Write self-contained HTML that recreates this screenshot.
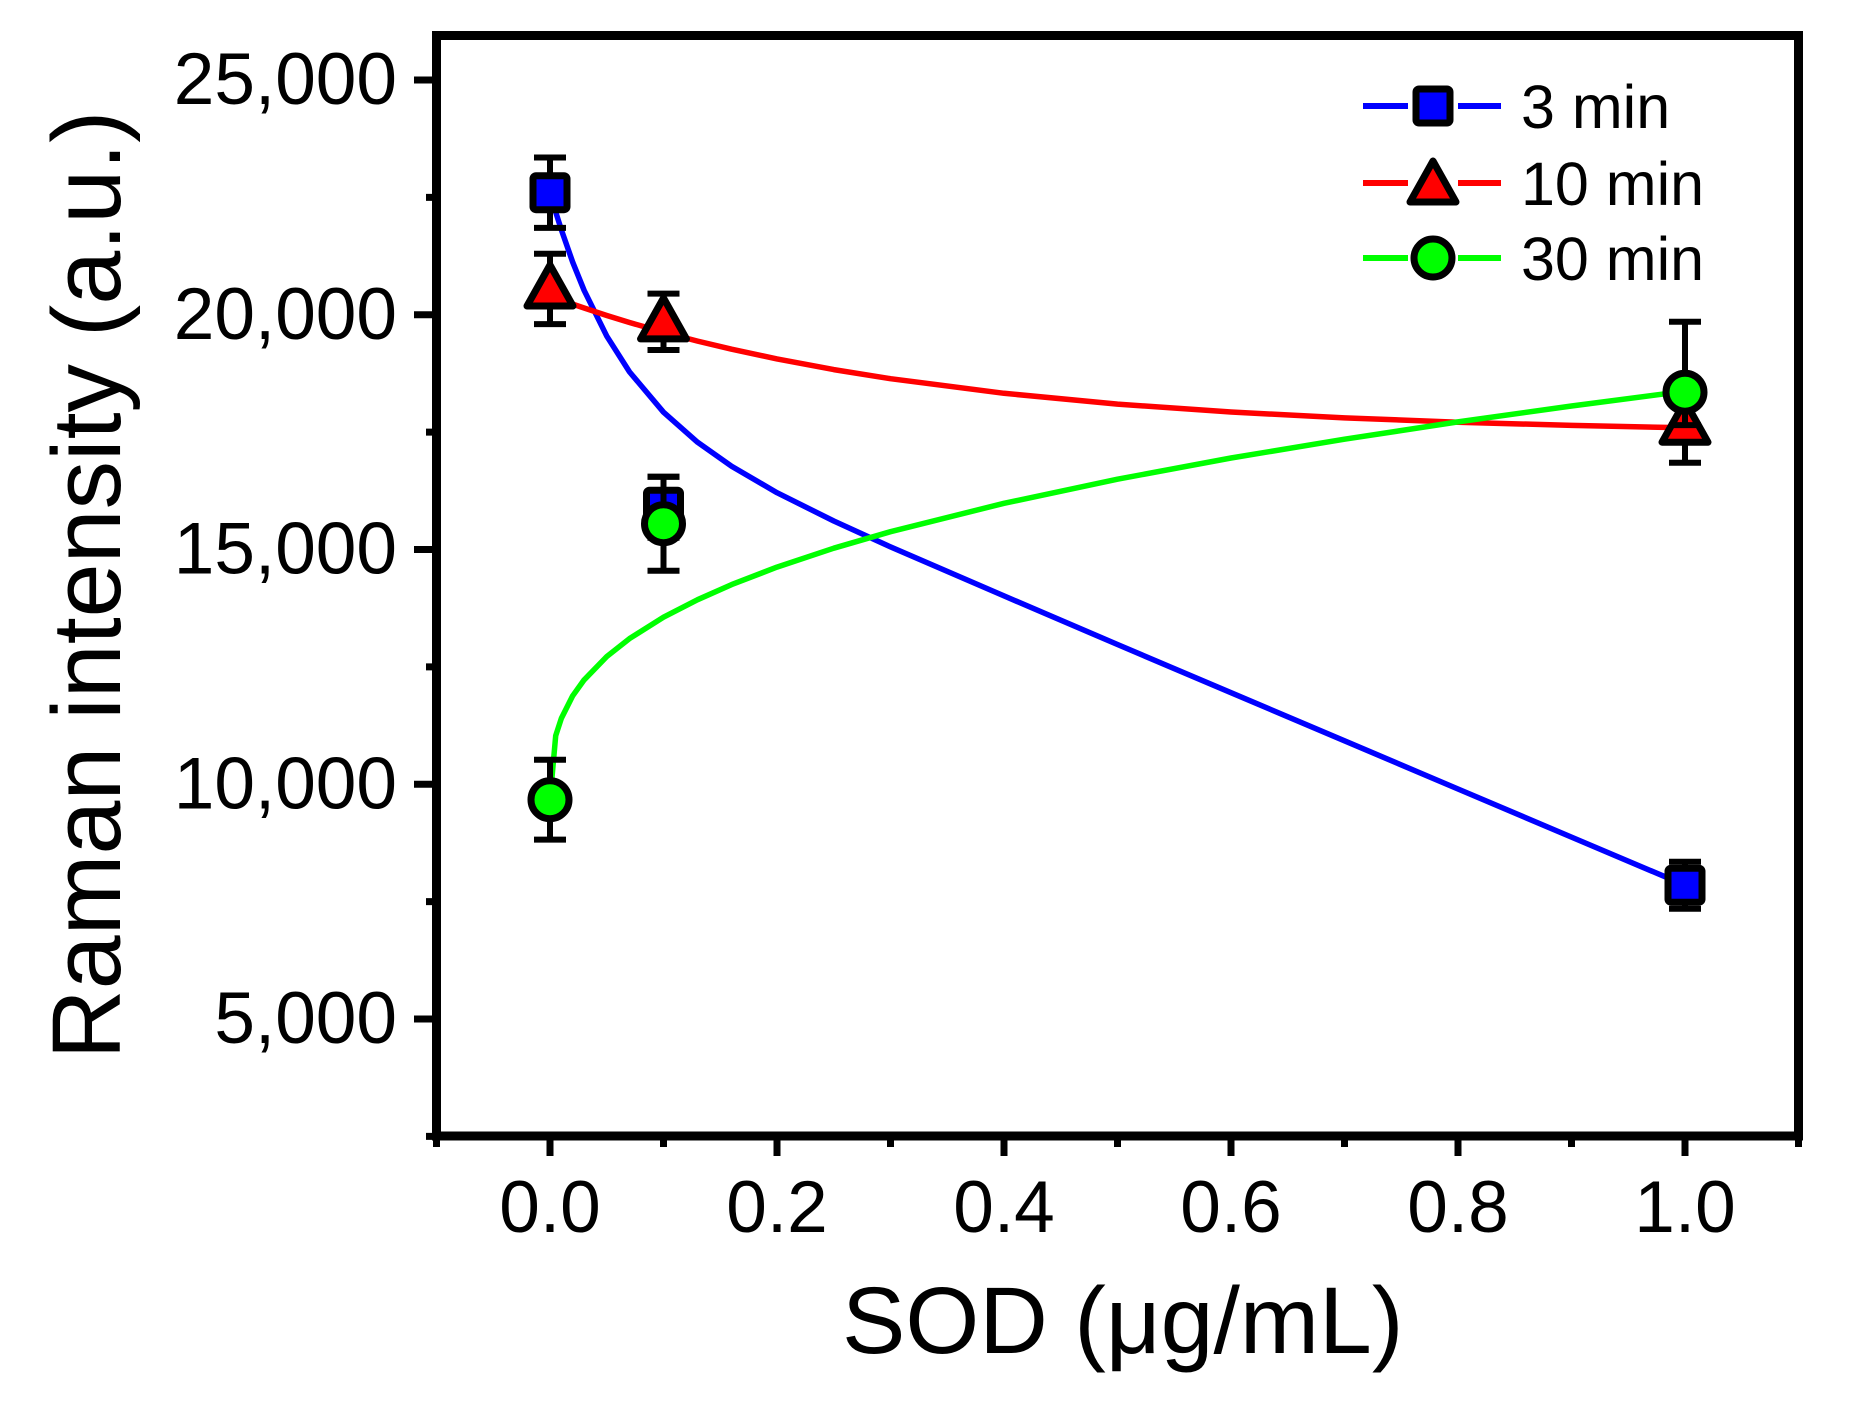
<!DOCTYPE html>
<html><head><meta charset="utf-8"><style>html,body{margin:0;padding:0;background:#fff}svg{display:block}</style></head>
<body>
<svg width="1853" height="1406" viewBox="0 0 1853 1406" xmlns="http://www.w3.org/2000/svg" font-family="Liberation Sans, Arial, sans-serif">
<rect width="1853" height="1406" fill="#fff"/>
<g fill="none" stroke-width="5.5" stroke-linejoin="round">
<polyline stroke="#0000ff" points="550,192.7 555.7,212 561.4,229.9 572.7,262.2 584.1,290.3 606.8,336.2 629.5,371.9 663.5,412.2 697.6,442.3 731.6,466.3 777,492.7 833.8,521 890.5,546.9 1004,595.9 1117.5,644.5 1231,692.7 1344.5,740.8 1458,789 1571.5,837.1 1685,885.2"/>
<polyline stroke="#ff0000" points="550,296 555.7,298.1 561.4,300.1 572.7,304.1 584.1,308 606.8,315.5 629.5,322.5 663.5,332.2 697.6,341.1 731.6,349.2 777,358.9 833.8,369.6 890.5,378.7 1004,393.3 1117.5,404.1 1231,412 1344.5,417.9 1458,422.2 1571.5,425.4 1685,427.8"/>
<polyline stroke="#00ff00" points="550,799.7 555.7,735.7 561.4,718.2 572.7,695.8 584.1,679.9 606.8,656.5 629.5,638.6 663.5,617.2 697.6,599.7 731.6,584.6 777,567.1 833.8,548.2 890.5,531.7 1004,503.3 1117.5,479.2 1231,458 1344.5,439.2 1458,421.9 1571.5,406 1685,391.2"/>
</g>
<g stroke="#000" stroke-width="6" fill="none">
<path d="M550,157.5V227.9M534,157.5h32M534,227.9h32"/>
<path d="M663.5,476.7V537.7M647.5,476.7h32M647.5,537.7h32"/>
<path d="M1685,861.7V908.7M1669,861.7h32M1669,908.7h32"/>
</g>
<g fill="#0000ff" stroke="#000" stroke-width="7">
<rect x="533" y="175.7" width="34" height="34" rx="3"/>
<rect x="646.5" y="490.2" width="34" height="34" rx="3"/>
<rect x="1668" y="868.2" width="34" height="34" rx="3"/>
</g>
<g stroke="#000" stroke-width="6" fill="none">
<path d="M550,253.7V324.1M534,253.7h32M534,324.1h32"/>
<path d="M663.5,293.6V350M647.5,293.6h32M647.5,350h32"/>
<path d="M1685,387.5V462.7M1669,387.5h32M1669,462.7h32"/>
</g>
<g fill="#ff0000" stroke="#000" stroke-width="7" stroke-linejoin="round">
<path d="M550,265L573,306L527,306Z"/>
<path d="M663.5,297.9L686.5,338.9L640.5,338.9Z"/>
<path d="M1685,401.2L1708,442.2L1662,442.2Z"/>
</g>
<g stroke="#000" stroke-width="6" fill="none">
<path d="M550,759.8V839.6M534,759.8h32M534,839.6h32"/>
<path d="M663.5,476.7V570.7M647.5,476.7h32M647.5,570.7h32"/>
<path d="M1685,321.8V425.1M1669,321.8h32M1669,425.1h32"/>
</g>
<g fill="#00ff00" stroke="#000" stroke-width="7">
<circle cx="550" cy="799.7" r="19"/>
<circle cx="663.5" cy="523.7" r="19"/>
<circle cx="1685" cy="392.2" r="19"/>
</g>
<rect x="436.5" y="35.5" width="1362" height="1100.5" fill="none" stroke="#000" stroke-width="9"/>
<g stroke="#000" stroke-width="7">
<path d="M414,80H436M426,197.4H436M414,314.75H436M426,432.1H436M414,549.5H436M426,666.9H436M414,784.25H436M426,901.6H436M414,1019H436M426,1136.4H436"/>
<path d="M436.5,1136V1147M550,1136V1156M663.5,1136V1147M777,1136V1156M890.5,1136V1147M1004,1136V1156M1117.5,1136V1147M1231,1136V1156M1344.5,1136V1147M1458,1136V1156M1571.5,1136V1147M1685,1136V1156M1798.5,1136V1147"/>
</g>
<g font-size="73" text-anchor="end" fill="#000">
<text x="397" y="104">25,000</text>
<text x="397" y="338.75">20,000</text>
<text x="397" y="573.5">15,000</text>
<text x="397" y="808.25">10,000</text>
<text x="397" y="1043">5,000</text>
</g>
<g font-size="73" text-anchor="middle" fill="#000">
<text x="550" y="1232">0.0</text>
<text x="777" y="1232">0.2</text>
<text x="1004" y="1232">0.4</text>
<text x="1231" y="1232">0.6</text>
<text x="1458" y="1232">0.8</text>
<text x="1685" y="1232">1.0</text>
</g>
<text x="842" y="1353" font-size="95" fill="#000">SOD (μg/mL)</text>
<text transform="translate(120,585) rotate(-90)" font-size="97" text-anchor="middle" fill="#000">Raman intensity (a.u.)</text>
<g stroke-width="6">
<path d="M1363,106H1408M1458,106H1501" stroke="#0000ff"/>
<path d="M1363,183H1408M1458,183H1501" stroke="#ff0000"/>
<path d="M1363,258H1408M1458,258H1501" stroke="#00ff00"/>
</g>
<rect x="1416" y="89" width="34" height="34" rx="3" fill="#0000ff" stroke="#000" stroke-width="7"/>
<path d="M1433,161L1456,202L1410,202Z" fill="#ff0000" stroke="#000" stroke-width="7" stroke-linejoin="round"/>
<circle cx="1433" cy="258" r="19" fill="#00ff00" stroke="#000" stroke-width="7"/>
<g font-size="61" fill="#000">
<text x="1521" y="128">3 min</text>
<text x="1521" y="205">10 min</text>
<text x="1521" y="280">30 min</text>
</g>
</svg>
</body></html>
